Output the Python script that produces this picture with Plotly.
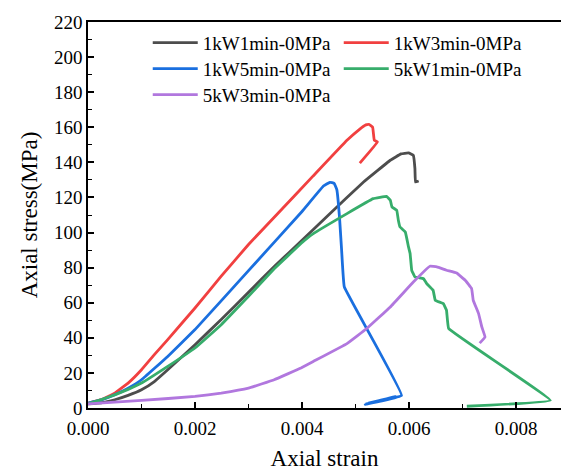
import plotly.graph_objects as go

names = ["1kW1min-0MPa", "1kW3min-0MPa", "1kW5min-0MPa", "5kW1min-0MPa", "5kW3min-0MPa"]
colors = ["#4d4d4d", "#f14040", "#1a6fdf", "#37ad6b", "#b177de"]
legend_rows = ["legend", "legend", "legend2", "legend2", "legend3"]

x_1k1 = [0, 0.00025, 0.0005, 0.00075, 0.001, 0.00124, 0.00149, 0.002, 0.00249, 0.003, 0.0035,
         0.004, 0.0045, 0.00515, 0.00565, 0.00585, 0.00599, 0.00608, 0.00611, 0.00612, 0.00618]
y_1k1 = [2.4, 3, 4.7, 7.2, 10.4, 15.1, 21.8, 36.1, 50.4, 66, 81.2,
         95.6, 110.2, 128.8, 141.2, 144.8, 145.4, 144, 136.4, 128.8, 129.4]

x_1k3 = [0, 0.00025, 0.0005, 0.00075, 0.001, 0.00124, 0.00149, 0.002, 0.00249, 0.003, 0.0036,
         0.0042, 0.00484, 0.00508, 0.00518, 0.00525, 0.00532, 0.00535, 0.00541, 0.00508]
y_1k3 = [2.8, 4.8, 8.5, 14.2, 21.8, 30.4, 39, 57, 75.1, 93.2, 112.6,
         132, 152.6, 159, 161.2, 161.7, 160.1, 152.6, 151.6, 139.6]

x_1k5 = [0, 0.00025, 0.0005, 0.00075, 0.001, 0.00149, 0.002, 0.003, 0.004, 0.0044, 0.00452,
         0.0046, 0.00465, 0.0047, 0.00474, 0.00479, 0.00586, 0.00518, 0.00575, 0.0052, 0.0057,
         0.00524]
y_1k5 = [2.8, 4.6, 7.5, 11.3, 16.1, 29.4, 44.7, 78.3, 112, 126.5, 128.6,
         128.1, 124.5, 108.9, 89.9, 69, 7.2, 2.1, 6.5, 2.4, 6,
         2.8]

x_5k1 = [0, 0.00025, 0.0005, 0.00075, 0.001, 0.00149, 0.002, 0.00249, 0.003, 0.00348, 0.00398,
         0.00421, 0.00484, 0.00533, 0.00558, 0.00565, 0.00568, 0.00577, 0.0058, 0.00583, 0.00593,
         0.00599, 0.00602, 0.00605, 0.00611, 0.00627, 0.00633, 0.00645, 0.00649, 0.00664, 0.0067,
         0.00674, 0.00864, 0.00708]
y_5k1 = [2.4, 4.8, 7.5, 10.6, 14.2, 23.7, 34.2, 47.5, 63.7, 79.3, 93.8,
         99.4, 110.8, 119.3, 120.6, 118.4, 114.6, 112.7, 107, 103.2, 100.3,
         91.8, 88, 78.5, 74.7, 73.7, 70.9, 67.1, 61.4, 59.5, 55.7,
         45.3, 4.4, 1.0]

x_5k3 = [0, 0.001, 0.002, 0.00249, 0.003, 0.00348, 0.00398, 0.00421, 0.00484, 0.00521, 0.00565,
         0.00608, 0.00639, 0.00652, 0.0067, 0.00689, 0.00705, 0.00717, 0.0072, 0.0073, 0.00736,
         0.00742, 0.00732]
y_5k3 = [2.4, 4.3, 6.6, 8.5, 11.3, 16.1, 22.8, 26.5, 36.7, 45.3, 57.6,
         71.8, 80.8, 80.4, 78.5, 76.9, 72.8, 68, 61.4, 53.8, 46.2,
         40.5, 37]

xs = [x_1k1, x_1k3, x_1k5, x_5k1, x_5k3]
ys = [y_1k1, y_1k3, y_1k5, y_5k1, y_5k3]

x_ticks = [0, 0.002, 0.004, 0.006, 0.008]
x_ticklabels = ["0.000", "0.002", "0.004", "0.006", "0.008"]
y_ticks = list(range(0, 221, 20))

fig = go.Figure()
for n, c, lg, x, y in zip(names, colors, legend_rows, xs, ys):
    fig.add_trace(go.Scatter(x=x, y=y, mode="lines", name=n, legend=lg,
                             line=dict(color=c, width=2.8, shape="spline", smoothing=0.2)))

font_family = "Liberation Serif"
leg_common = dict(orientation="h", x=0.1263, xanchor="left", yanchor="top",
                  entrywidth=131, entrywidthmode="pixels", itemwidth=45,
                  bgcolor="rgba(0,0,0,0)", font=dict(size=19, family=font_family))
fig.update_layout(
    width=561, height=472,
    margin=dict(l=88, r=0, t=22, b=64),
    plot_bgcolor="white", paper_bgcolor="white",
    font=dict(family=font_family, color="black", size=19),
    showlegend=True,
    legend=dict(y=0.9953, **leg_common),
    legend2=dict(y=0.928, **leg_common),
    legend3=dict(y=0.8606, **leg_common),
    xaxis=dict(range=[0, 0.00884], tickvals=x_ticks, ticktext=x_ticklabels,
               ticks="inside", ticklen=6, tickwidth=1.5, tickcolor="black",
               showline=True, linecolor="black", linewidth=1.6, mirror=True,
               showgrid=False, zeroline=False, ticklabelstandoff=2,
               minor=dict(dtick=0.001, ticks="inside", ticklen=4, tickwidth=1.2, tickcolor="black"),
               title=dict(text="Axial strain", font=dict(size=23), standoff=12),
               tickfont=dict(size=19)),
    yaxis=dict(range=[0, 220], tickvals=y_ticks,
               ticks="inside", ticklen=6, tickwidth=1.5, tickcolor="black",
               showline=True, linecolor="black", linewidth=1.6,
               showgrid=False, zeroline=False,
               minor=dict(dtick=10, ticks="inside", ticklen=4, tickwidth=1.2, tickcolor="black"),
               title=dict(text="Axial stress(MPa)", font=dict(size=23), standoff=10),
               tickfont=dict(size=19)),
)

fig.write_html("out.html")
